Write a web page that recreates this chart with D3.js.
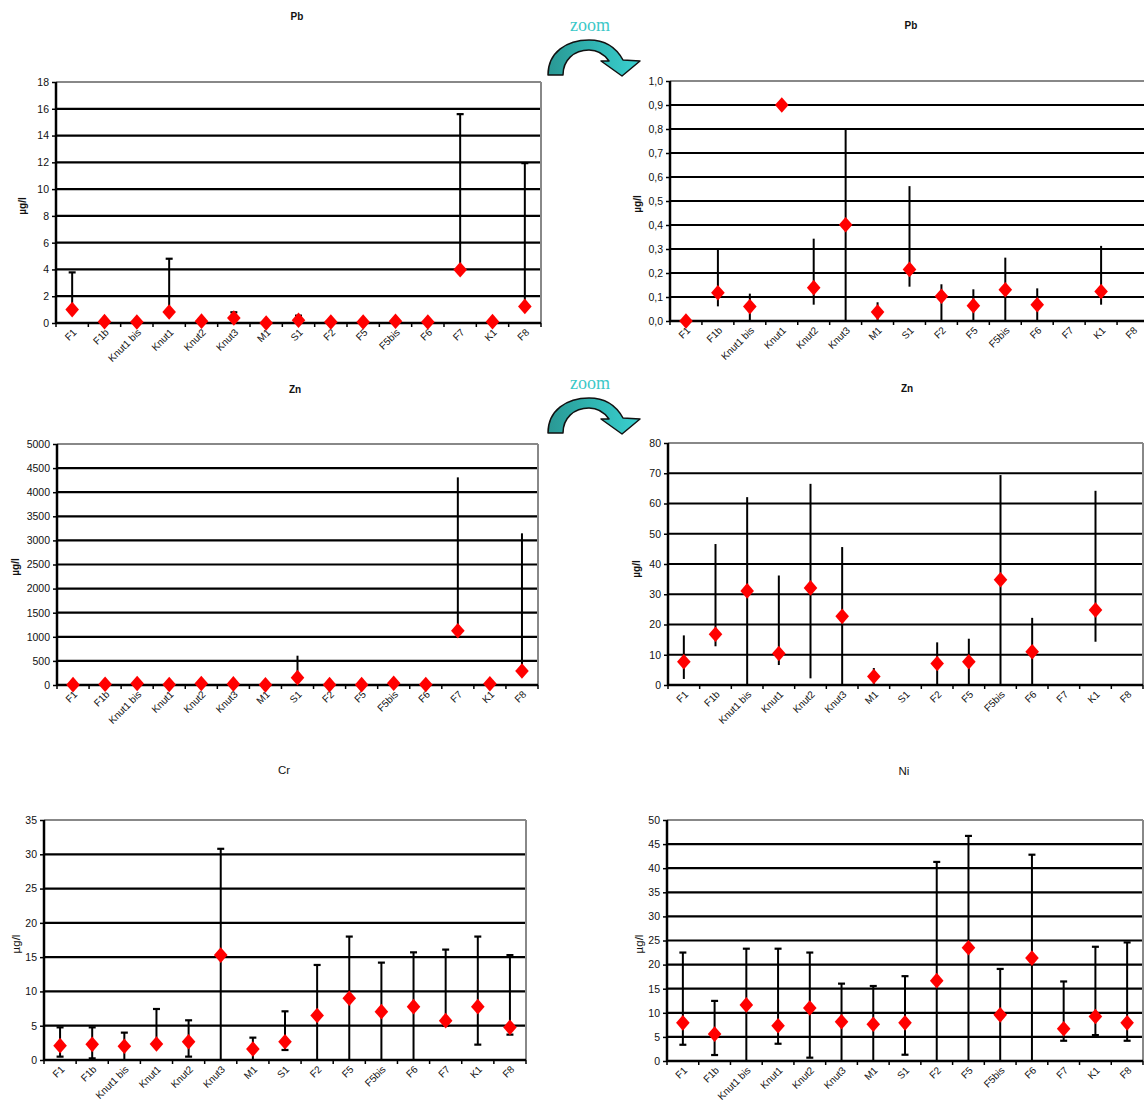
<!DOCTYPE html>
<html><head><meta charset="utf-8">
<script src="https://cdn.jsdelivr.net/npm/d3@7"></script>
<style>
html,body{margin:0;padding:0;background:#fff;}
svg{display:block;font-family:"Liberation Sans",Arial,sans-serif;}
</style></head>
<body>
<svg id="chart" width="1144" height="1106"></svg>
<script>
// ---------- DATA ----------
const categories = ["F1","F1b","Knut1 bis","Knut1","Knut2","Knut3","M1","S1","F2","F5","F5bis","F6","F7","K1","F8"];

// Pb (full scale)
const pbMean = [1.0, 0.1, 0.08, 0.82, 0.14, 0.37, 0.0, 0.2, 0.08, 0.08, 0.13, 0.08, 3.98, 0.1, 1.24];
const pbLow  = [null,null,null,null,null,null,null,null,null,null,null,null,null,null,null];
const pbHigh = [3.78, null, null, 4.8, null, 0.8, null, 0.55, null, null, null, null, 15.6, null, 11.94];
const pbTicks = [0,2,4,6,8,10,12,14,16,18];

// Pb (zoomed)
const pbZoomMean = [0.0, 0.118, 0.06, 0.9, 0.139, 0.401, 0.037, 0.215, 0.103, 0.064, 0.13, 0.068, null, 0.123, null];
const pbZoomLow  = [null, 0.061, 0, null, 0.068, 0, 0, 0.143, 0, 0, 0, 0, null, 0.068, null];
const pbZoomHigh = [null, 0.297, 0.114, null, 0.343, 0.80, 0.078, 0.562, 0.153, 0.132, 0.264, 0.136, null, 0.313, null];
const pbZoomTicks = [0,0.1,0.2,0.3,0.4,0.5,0.6,0.7,0.8,0.9,1.0];

// Zn
const znMean = [7.7, 16.8, 31.1, 10.4, 32.1, 22.7, 2.8, 152, 7.1, 7.7, 34.8, 11.0, 1127, 24.8, 290];
const znLow  = [2.0, 12.8, 0, 6.6, 2.2, 0, 0, 152, 0, 0, 0, 0, 1127, 14.3, 290];
const znHigh = [16.4, 46.6, 62.1, 36.2, 66.5, 45.6, 5.6, 608, 14.1, 15.3, 69.4, 22.2, 4308, 64.2, 3147];
const znTicks = [0,500,1000,1500,2000,2500,3000,3500,4000,4500,5000];
const znZoomTicks = [0,10,20,30,40,50,60,70,80];

// Cr
const crMean = [2.09, 2.28, 2.0, 2.33, 2.67, 15.3, 1.6, 2.67, 6.5, 9.0, 7.05, 7.78, 5.74, 7.78, 4.76];
const crLow  = [0.49, 0.24, 0, 2.33, 0.49, 0, 0, 1.46, 0, 0, 0, 0, 5.0, 2.24, 3.7];
const crHigh = [4.76, 4.76, 3.99, 7.44, 5.79, 30.8, 3.26, 7.1, 13.86, 18.0, 14.2, 15.7, 16.1, 18.0, 15.3];
const crTicks = [0,5,10,15,20,25,30,35];

// Ni
const niMean = [7.92, 5.58, 11.64, 7.3, 11.0, 8.13, 7.64, 7.92, 16.67, 23.5, 9.57, 21.35, 6.68, 9.23, 7.92];
const niLow  = [3.37, 1.24, 0, 3.58, 0.69, 0, 0, 1.3, 0, 0, 0, 0, 4.2, 5.37, 4.2];
const niHigh = [22.5, 12.47, 23.3, 23.3, 22.5, 16.05, 15.56, 17.6, 41.3, 46.7, 19.1, 42.8, 16.5, 23.7, 24.6];
const niTicks = [0,5,10,15,20,25,30,35,40,45,50];

// ---------- DRAWING ----------
const svg = d3.select("#chart");
const diamond = { draw(ctx, size) { const w = 6.8, h = 7.8; ctx.moveTo(0,-h); ctx.lineTo(w,0); ctx.lineTo(0,h); ctx.lineTo(-w,0); ctx.closePath(); } };

function panel(o) {
  const g = svg.append("g");
  const x = d3.scaleBand().domain(categories).range([o.x0, o.x1]);
  const max = o.ticks[o.ticks.length - 1];
  const y = d3.scaleLinear().domain([0, max]).range([o.y1, o.y0]);

  // gridlines
  g.append("g").selectAll("line").data(o.ticks.filter(t => t > 0 && t < max)).join("line")
    .attr("x1", o.x0).attr("x2", o.x1).attr("y1", d => y(d)).attr("y2", d => y(d))
    .attr("stroke", "#000").attr("stroke-width", 2.2);
  // plot border top / right (gray)
  g.append("line").attr("x1", o.x0).attr("x2", o.x1).attr("y1", y(max)).attr("y2", y(max))
    .attr("stroke", "#888").attr("stroke-width", 2.2);
  g.append("line").attr("x1", o.x1).attr("x2", o.x1).attr("y1", y(max)).attr("y2", y(0))
    .attr("stroke", "#888").attr("stroke-width", 2);

  // y axis
  const ya = g.append("g").attr("transform", `translate(${o.x0},0)`)
    .call(d3.axisLeft(y).tickValues(o.ticks).tickSize(4).tickPadding(3).tickFormat(o.fmt));
  ya.select(".domain").attr("stroke", "#000").attr("stroke-width", 2.5).attr("d", `M0,${y(max)}V${y(0)}`);
  ya.selectAll(".tick line").attr("stroke", "#000").attr("stroke-width", 1.5);
  ya.selectAll(".tick text").attr("font-size", 10.5).attr("fill", "#111")
    .attr("font-family", "'Liberation Sans', Arial, sans-serif");

  // x axis
  const xa = g.append("g").attr("transform", `translate(0,${o.y1})`)
    .call(d3.axisBottom(x).tickSize(0).tickPadding(0));
  xa.select(".domain").attr("stroke", "#000").attr("stroke-width", 2.5).attr("d", `M${o.x0},0H${o.x1}`);
  xa.selectAll(".tick text").attr("font-size", 10).attr("fill", "#111")
    .attr("font-family", "'Liberation Sans', Arial, sans-serif")
    .attr("text-anchor", "end").attr("dy", 0).attr("y", 0)
    .attr("transform", "translate(5,10) rotate(-45)");
  // boundary tick marks
  g.append("g").selectAll("line").data(categories.concat(["__end"])).join("line")
    .attr("x1", d => d === "__end" ? o.x1 : x(d)).attr("x2", d => d === "__end" ? o.x1 : x(d))
    .attr("y1", o.y1).attr("y2", o.y1 + 4)
    .attr("stroke", "#000").attr("stroke-width", 1.5);

  const pts = categories.map((c, i) => ({c, m: o.mean[i], lo: o.low[i], hi: o.high[i]}))
    .filter(d => d.m != null && d.m <= max);
  const cx = d => x(d.c) + x.bandwidth() / 2;

  // error bars
  const eb = pts.filter(d => d.hi != null);
  g.append("g").selectAll("line").data(eb).join("line")
    .attr("x1", cx).attr("x2", cx)
    .attr("y1", d => y(Math.max(0, d.lo == null ? d.m : d.lo)))
    .attr("y2", d => y(Math.min(max, d.hi)))
    .attr("stroke", "#000").attr("stroke-width", 2);
  if (o.caps) {
    const capEnds = [];
    eb.forEach(d => {
      if (d.hi <= max) capEnds.push({c: d.c, v: d.hi});
      if (d.lo != null && d.lo > 0 && d.lo < d.m) capEnds.push({c: d.c, v: d.lo});
    });
    g.append("g").selectAll("line").data(capEnds).join("line")
      .attr("x1", d => cx(d) - 3.5).attr("x2", d => cx(d) + 3.5)
      .attr("y1", d => y(d.v)).attr("y2", d => y(d.v))
      .attr("stroke", "#000").attr("stroke-width", 2.2);
  }
  // markers
  g.append("g").selectAll("path").data(pts).join("path")
    .attr("d", d3.symbol(diamond))
    .attr("transform", d => `translate(${cx(d)},${y(d.m)})`)
    .attr("fill", "#ff0000");

  // title
  g.append("text").attr("x", o.tx).attr("y", o.ty).attr("text-anchor", "middle")
    .attr("dominant-baseline", "middle")
    .attr("font-size", o.bold ? 10 : 11.5).attr("font-weight", o.bold ? "bold" : "normal")
    .attr("fill", "#111").text(o.title);
  // y label
  g.append("text").attr("transform", `translate(${o.lx},${o.ly}) rotate(-90)`)
    .attr("text-anchor", "middle").attr("dominant-baseline", "middle")
    .attr("font-size", o.bold ? 10 : 11.5).attr("font-weight", o.bold ? "bold" : "normal")
    .attr("fill", "#111").text("µg/l");
}

const dec = d3.format(".1f");
const comma = v => dec(v).replace(".", ",");

panel({x0: 56, x1: 541, y0: 82, y1: 323, ticks: pbTicks, fmt: d3.format("d"),
  mean: pbMean, low: pbLow, high: pbHigh, caps: true,
  title: "Pb", tx: 297, ty: 17, lx: 23, ly: 206, bold: true});
panel({x0: 670, x1: 1149, y0: 81, y1: 321, ticks: pbZoomTicks, fmt: comma,
  mean: pbZoomMean, low: pbZoomLow, high: pbZoomHigh, caps: false,
  title: "Pb", tx: 911, ty: 26, lx: 638, ly: 204, bold: true});
panel({x0: 57, x1: 538, y0: 444, y1: 685, ticks: znTicks, fmt: d3.format("d"),
  mean: znMean, low: znMean, high: znHigh, caps: false,
  title: "Zn", tx: 295, ty: 390, lx: 16, ly: 567, bold: true});
panel({x0: 668, x1: 1143, y0: 443, y1: 685, ticks: znZoomTicks, fmt: d3.format("d"),
  mean: znMean, low: znLow, high: znHigh, caps: false,
  title: "Zn", tx: 907, ty: 389, lx: 637, ly: 569, bold: true});
panel({x0: 44, x1: 526, y0: 820, y1: 1060, ticks: crTicks, fmt: d3.format("d"),
  mean: crMean, low: crLow, high: crHigh, caps: true,
  title: "Cr", tx: 284, ty: 771, lx: 17, ly: 944, bold: false});
panel({x0: 667, x1: 1143, y0: 820, y1: 1061, ticks: niTicks, fmt: d3.format("d"),
  mean: niMean, low: niLow, high: niHigh, caps: true,
  title: "Ni", tx: 904, ty: 772, lx: 640, ly: 944, bold: false});

// zoom arrows
const defs = svg.append("defs");
const grad = defs.append("linearGradient").attr("id", "arrowGrad").attr("x1", "0").attr("x2", "1").attr("y1", "0").attr("y2", "0");
grad.append("stop").attr("offset", "0").attr("stop-color", "#2a9894");
grad.append("stop").attr("offset", "0.45").attr("stop-color", "#2fb3b0");
grad.append("stop").attr("offset", "1").attr("stop-color", "#3ad0d0");
[0, 358].forEach(dy => {
  const a = svg.append("g").attr("transform", `translate(0,${dy})`);
  a.append("text").attr("x", 590).attr("y", 27).attr("text-anchor", "middle")
    .attr("dominant-baseline", "middle")
    .attr("font-family", "'Liberation Serif', 'Times New Roman', serif")
    .attr("font-size", 18).attr("fill", "#3cc8c8").text("zoom");
  a.append("path")
    .attr("d", "M548,75 C548,52 567,40 589,40 C606,40 617,49 623,60 L640,61 L622,76 L601,61 L609,61 C604,54 597,50 589,50 C574,50 563,60 563,75 Z")
    .attr("fill", "url(#arrowGrad)").attr("stroke", "#111").attr("stroke-width", 1.5).attr("stroke-linejoin", "round");
});
</script>
</body></html>
